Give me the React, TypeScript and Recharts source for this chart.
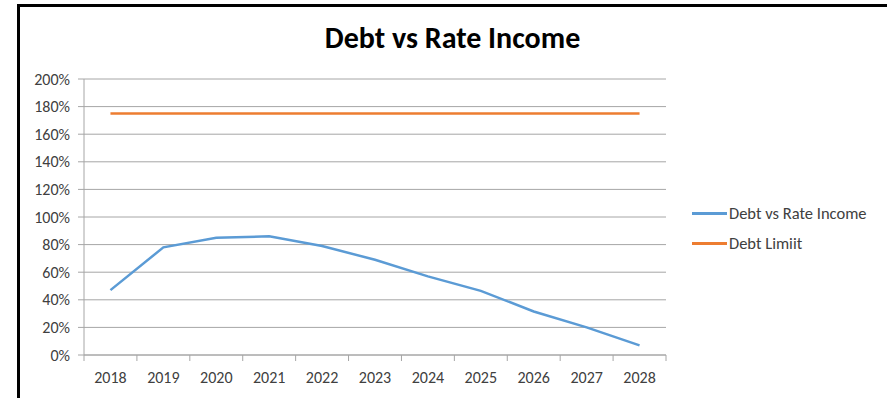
import { LineChart, Line, XAxis, YAxis, CartesianGrid } from 'recharts'

const years = [2018, 2019, 2020, 2021, 2022, 2023, 2024, 2025, 2026, 2027, 2028]
const debtVsRateIncome = [0.47, 0.78, 0.85, 0.86, 0.79, 0.69, 0.57, 0.465, 0.315, 0.2, 0.07]
const debtLimit = [1.75, 1.75, 1.75, 1.75, 1.75, 1.75, 1.75, 1.75, 1.75, 1.75, 1.75]
const yTicks = [0, 0.2, 0.4, 0.6, 0.8, 1, 1.2, 1.4, 1.6, 1.8, 2]
// category boundaries, where Excel puts the x tick marks
const yearEdges = [2017.5, ...years.map(y => y + 0.5)]

const series = [
  { key: 'debt', name: 'Debt vs Rate Income', color: '#5b9bd5' },
  { key: 'limit', name: 'Debt Limiit', color: '#ed7d31' },
]

const FONT = 'Carlito, Calibri, Lato, sans-serif'
const GRID = '#a6a6a6'
const TEXT = '#404040'

const data = years.map((year, i) => ({
  year,
  debt: debtVsRateIncome[i],
  limit: debtLimit[i],
}))

const PercentTick = ({ x, y, payload }: { x?: number; y?: number; payload?: { value: number } }) => (
  <text x={x} y={y} dy={5.5} textAnchor="end" fill={TEXT} fontSize={16} fontFamily={FONT}>
    {`${Math.round((payload?.value ?? 0) * 100)}%`}
  </text>
)

export default function App() {
  return (
    <div style={{ position: 'absolute', left: 0, top: 0, width: 887, height: 398, overflow: 'hidden', background: '#fff' }}>
      <div
        style={{
          position: 'absolute', left: 17, top: 4, width: 900, height: 420,
          borderLeft: '3px solid #000', borderTop: '3px solid #000',
        }}
      />
      <div
        style={{
          position: 'absolute', left: 0, width: 905, top: 19, textAlign: 'center',
          fontFamily: FONT, fontWeight: 700, fontSize: 30, color: '#000',
        }}
      >
        Debt vs Rate Income
      </div>
      <div style={{ position: 'absolute', left: 0, top: 0 }}>
        <LineChart width={887} height={398} data={data} margin={{ top: 79, right: 221, left: 0, bottom: 0 }}>
          <CartesianGrid vertical={false} stroke={GRID} strokeWidth={1} xAxisId="edges" />
          <XAxis
            xAxisId="edges"
            type="number"
            dataKey="year"
            domain={[2017.5, 2028.5]}
            ticks={yearEdges}
            height={1}
            axisLine={{ stroke: GRID }}
            tickLine={{ stroke: GRID }}
            tickSize={6}
            tick={{ fontSize: 0 }}
            tickFormatter={() => ''}
          />
          <XAxis
            xAxisId="years"
            type="number"
            dataKey="year"
            domain={[2017.5, 2028.5]}
            ticks={years}
            height={42}
            axisLine={false}
            tickLine={false}
            tickMargin={10}
            tick={{ fill: TEXT, fontSize: 16, fontFamily: FONT }}
          />
          <YAxis
            width={84}
            domain={[0, 2]}
            ticks={yTicks}
            axisLine={{ stroke: GRID }}
            tickLine={{ stroke: GRID }}
            tickSize={6}
            tickMargin={8}
            tick={<PercentTick />}
          />
          {series.map(s => (
            <Line
              key={s.key}
              xAxisId="years"
              dataKey={s.key}
              name={s.name}
              stroke={s.color}
              strokeWidth={2.5}
              dot={false}
              isAnimationActive={false}
            />
          ))}
        </LineChart>
      </div>
      <div style={{ position: 'absolute', left: 692, top: 198, fontFamily: FONT, fontSize: 16.5, color: TEXT }}>
        {series.map(s => (
          <div key={s.key} style={{ display: 'flex', alignItems: 'center', height: 30 }}>
            <span style={{ display: 'inline-block', width: 35, height: 3, background: s.color, marginRight: 2 }} />
            <span>{s.name}</span>
          </div>
        ))}
      </div>
    </div>
  )
}
